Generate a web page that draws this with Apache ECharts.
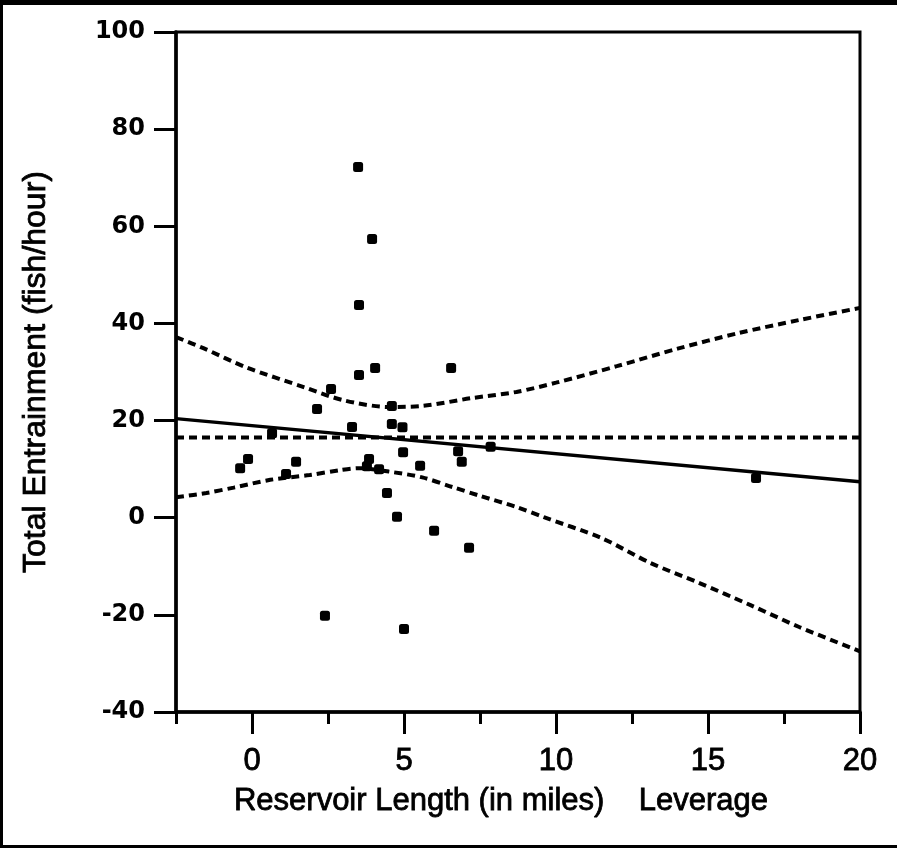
<!DOCTYPE html>
<html>
<head>
<meta charset="utf-8">
<title>Total Entrainment vs Reservoir Length</title>
<style>
  html, body { margin: 0; padding: 0; background: #fff; }
  #main { width: 897px; height: 848px; }
</style>
</head>
<body>
<div id="main"></div>
<script src="https://cdn.jsdelivr.net/npm/echarts@6/dist/echarts.min.js"></script>
<script>
// observed points (reservoir length in miles, entrainment in fish/hour)
var lengthMiles = [3.49, 3.95, 3.52, 3.52, 4.05, 6.55, 2.6, 2.14, 4.6, 3.29, 0.66,
  4.6, 4.95, -0.13, -0.39, 1.45, 1.12, 3.85, 3.78, 4.18, 4.44, 4.77, 4.97, 5.53,
  5.99, 7.14, 6.78, 6.9, 7.85, 2.4, 5.0, 16.58];
var entrainment = [72.2, 57.4, 43.8, 29.4, 30.8, 30.8, 26.5, 22.4, 23.0, 18.7, 17.4,
  19.3, 18.6, 12.1, 10.2, 11.5, 9.0, 12.1, 10.6, 10.0, 5.1, 0.2, 13.5, 10.7,
  -2.7, -6.2, 13.7, 11.5, 14.6, -20.2, -22.9, 8.2];

// fitted line and mean line
var fitX = [-2.5, 20];
var fitY = [20.4, 7.4];
var meanY = 16.5;

// confidence curves
var upperX = [-2.5, -1.6, -0.2, 1.7, 3.0, 4.5, 5.6, 7.2, 8.7, 10.0, 12.0, 14.0, 16.0, 18.0, 20];
var upperY = [37.2, 34.9, 31.0, 26.9, 24.2, 22.8, 23.0, 24.6, 25.9, 27.8, 31.2, 34.8, 38.0, 40.7, 43.2];
var lowerX = [-2.5, -1.5, -0.6, 0.6, 1.9, 2.9, 3.5, 4.5, 5.6, 6.6, 7.5, 8.7, 9.6, 11.5, 13.1, 14.7, 16.4, 18.0, 20];
var lowerY = [4.2, 5.1, 6.2, 7.8, 8.8, 9.8, 10.2, 9.5, 8.3, 6.3, 4.5, 2.2, 0.1, -4.2, -9.3, -13.4, -18.0, -22.5, -27.5];

var xMajorTicks = [0, 5, 10, 15, 20];
var xMinorTicks = [-2.5, 2.5, 7.5, 12.5, 17.5];

function zip(xs, ys) {
  var out = [];
  for (var i = 0; i < xs.length; i++) out.push([xs[i], ys[i]]);
  return out;
}

var chart = echarts.init(document.getElementById('main'));

// the scan makes everything a bit heavier, a thin text stroke mimics that
var dashed = { color: '#000', width: 4, type: [8, 5] };
var scanText = { color: '#000', fontFamily: 'Liberation Sans', textBorderColor: '#000', textBorderWidth: 0.8 };

var option = {
  animation: false,
  backgroundColor: '#fff',
  grid: {
    left: 176, top: 32, width: 684, height: 680,
    show: true, borderColor: '#000', borderWidth: 3
  },
  xAxis: [
    {
      type: 'value', min: -2.5, max: 20, position: 'bottom',
      axisLine: { onZero: false, lineStyle: { color: '#000', width: 3.5 } },
      axisTick: { length: 12, customValues: xMinorTicks, lineStyle: { color: '#000', width: 3 } },
      axisLabel: { show: false },
      splitLine: { show: false }
    },
    {
      type: 'value', min: -2.5, max: 20, position: 'bottom',
      axisLine: { show: false, onZero: false },
      axisTick: { length: 22, customValues: xMajorTicks, lineStyle: { color: '#000', width: 3 } },
      axisLabel: Object.assign({ customValues: xMajorTicks, margin: 34, fontSize: 31 }, scanText),
      splitLine: { show: false },
      name: 'Reservoir Length (in miles)    Leverage',
      nameLocation: 'middle', nameGap: 74,
      nameTextStyle: Object.assign({ padding: [0, 34, 0, 0], fontSize: 31 }, scanText)
    }
  ],
  yAxis: {
    type: 'value', min: -40, max: 100, interval: 20,
    axisLine: { onZero: false, lineStyle: { color: '#000', width: 3.5 } },
    axisTick: { length: 22, lineStyle: { color: '#000', width: 3 } },
    axisLabel: {
      margin: 31, color: '#000',
      fontFamily: 'DejaVu Sans', fontWeight: 'bold', fontSize: 24
    },
    splitLine: { show: false },
    name: 'Total Entrainment (fish/hour)',
    nameLocation: 'middle', nameRotate: 90, nameGap: 124,
    nameTextStyle: Object.assign({ fontSize: 32 }, scanText)
  },
  graphic: [
    { type: 'rect', shape: { x: 0, y: 0, width: 897, height: 5 }, style: { fill: '#000' } },
    { type: 'rect', shape: { x: 0, y: 0, width: 3, height: 848 }, style: { fill: '#000' } },
    { type: 'rect', shape: { x: 0, y: 845, width: 897, height: 3 }, style: { fill: '#000' } }
  ],
  series: [
    {
      type: 'line', data: zip(upperX, upperY), smooth: 0.3, showSymbol: false,
      lineStyle: dashed, silent: true
    },
    {
      type: 'line', data: zip(lowerX, lowerY), smooth: 0.3, showSymbol: false,
      lineStyle: dashed, silent: true
    },
    {
      type: 'line', data: zip(fitX, [meanY, meanY]), showSymbol: false,
      lineStyle: dashed, silent: true
    },
    {
      type: 'line', data: zip(fitX, fitY), showSymbol: false,
      lineStyle: { color: '#000', width: 3.5 }, silent: true
    },
    {
      type: 'scatter', data: zip(lengthMiles, entrainment),
      symbol: 'roundRect', symbolSize: 10,
      itemStyle: { color: '#000', opacity: 1 }, z: 5
    }
  ]
};

chart.setOption(option);
</script>
</body>
</html>
